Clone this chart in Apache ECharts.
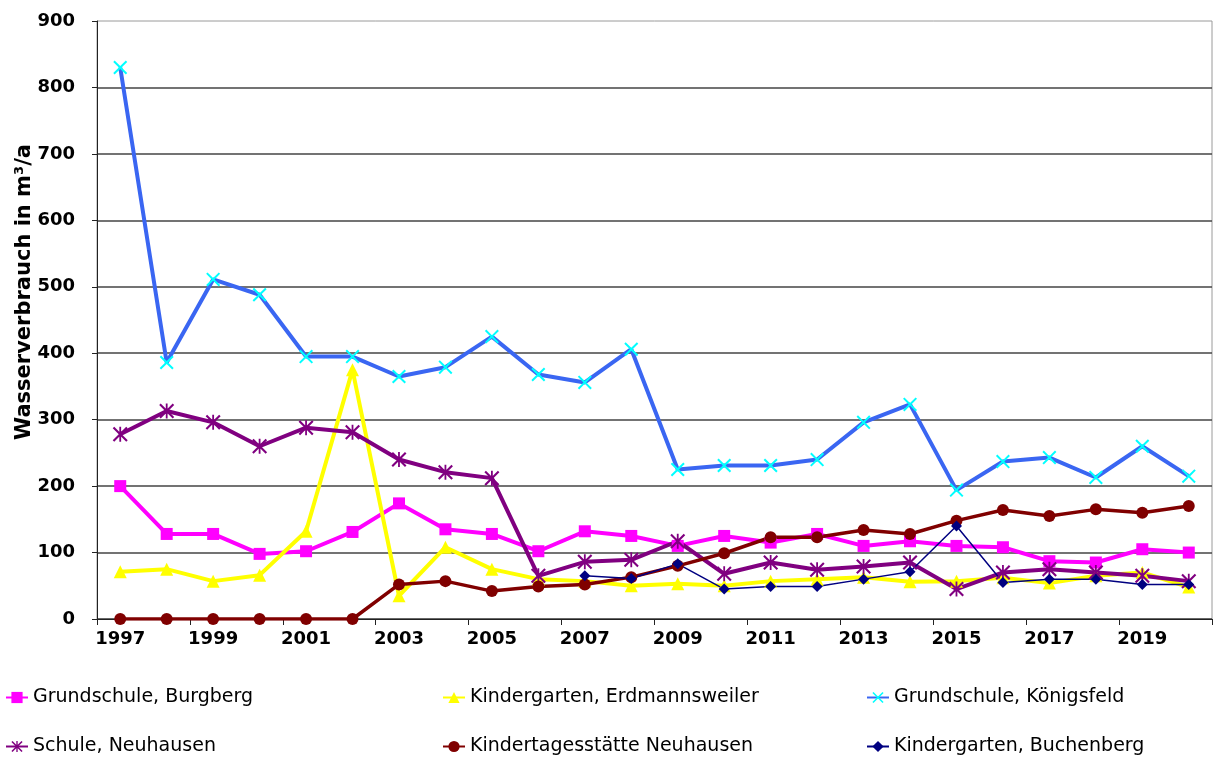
<!DOCTYPE html>
<html>
<head>
<meta charset="utf-8">
<script src="https://cdn.jsdelivr.net/npm/echarts@6/dist/echarts.min.js"></script>
<style>
    html, body { margin: 0; padding: 0; background: #fff; }
    #chart { width: 1219px; height: 759px; }
</style>
</head>
<body>
<div id="chart"></div>
<script>
// Jahre und Verbrauchswerte (m³/a)
const years = ['1997', '1998', '1999', '2000', '2001', '2002', '2003', '2004', '2005', '2006', '2007', '2008',
    '2009', '2010', '2011', '2012', '2013', '2014', '2015', '2016', '2017', '2018', '2019', '2020'];

const burgberg = [200, 128, 128, 98, 102, 131, 174, 135, 128, 102, 132, 125,
    110, 125, 115, 128, 110, 117, 110, 108, 87, 85, 105, 100];
const erdmannsweiler = [71, 75, 57, 66, 132, 375, 35, 108, 75, 60, 57, 50,
    53, 50, 57, 60, 63, 56, 57, 62, 54, 65, 70, 48];
const koenigsfeld = [830, 386, 511, 488, 395, 395, 365, 379, 425, 368, 356, 406,
    225, 231, 231, 240, 296, 323, 194, 237, 243, 213, 260, 215];
const schuleNeuhausen = [278, 313, 296, 260, 288, 281, 240, 221, 212, 65, 86, 89,
    117, 68, 85, 74, 79, 85, 45, 70, 75, 70, 65, 57];
const kitaNeuhausen = [0, 0, 0, 0, 0, 0, 52, 57, 42, 49, 52, 63,
    80, 99, 123, 123, 134, 128, 148, 164, 155, 165, 160, 170];
const buchenberg = ['-', '-', '-', '-', '-', '-', '-', '-', '-', '-', 65, 61,
    83, 45, 49, 49, 60, 71, 140, 55, 60, 60, 52, 52];

const seriesNames = ['Grundschule, Burgberg', 'Kindergarten, Erdmannsweiler', 'Grundschule, Königsfeld',
    'Schule, Neuhausen', 'Kindertagesstätte Neuhausen', 'Kindergarten, Buchenberg'];

// Markerformen: Kreuz und Stern als gefüllte Pfade
const crossSymbol = 'path://M0,1L1,0L5,4L9,0L10,1L6,5L10,9L9,10L5,6L1,10L0,9L4,5Z';
const starSymbol = 'path://M0,1L1,0L5,4L9,0L10,1L6,5L10,9L9,10L5,6L1,10L0,9L4,5Z M4.4,0L5.6,0L5.6,10L4.4,10Z';

document.addEventListener('DOMContentLoaded', function () {
    const chart = echarts.init(document.getElementById('chart'));
    const fontFamily = 'DejaVu Sans';

    function legend(left, names) {
        return {
            orient: 'vertical',
            left: left,
            top: 688,
            padding: 0,
            itemGap: 30,
            itemWidth: 22,
            itemHeight: 14,
            textStyle: { fontFamily: fontFamily, fontSize: 19, color: '#000' },
            data: names
        };
    }

    function lineSeries(name, data, color, width, symbol, size, symbolColor) {
        return {
            name: name,
            type: 'line',
            data: data,
            symbol: symbol,
            symbolSize: size,
            showAllSymbol: true,
            connectNulls: false,
            lineStyle: { color: color, width: width },
            itemStyle: { color: symbolColor || color },
            emphasis: { disabled: true }
        };
    }

    chart.setOption({
        animation: false,
        backgroundColor: '#fff',
        grid: {
            left: 97,
            right: 7,
            top: 21,
            bottom: 140,
            outerBoundsMode: 'none',
            show: true,
            borderColor: '#9a9a9a',
            borderWidth: 1
        },
        legend: [
            legend(5, [seriesNames[0], seriesNames[3]]),
            legend(442, [seriesNames[1], seriesNames[4]]),
            legend(866, [seriesNames[2], seriesNames[5]])
        ],
        xAxis: {
            type: 'category',
            data: years,
            boundaryGap: true,
            axisLine: { lineStyle: { color: '#222', width: 1 } },
            axisTick: { show: true, length: 6, lineStyle: { color: '#222' } },
            axisLabel: {
                interval: 1,
                margin: 11,
                color: '#000',
                fontFamily: fontFamily,
                fontWeight: 'bold',
                fontSize: 18
            }
        },
        yAxis: {
            type: 'value',
            min: 0,
            max: 900,
            interval: 100,
            name: 'Wasserverbrauch in m³/a',
            nameLocation: 'middle',
            nameGap: 62,
            nameMoveOverlap: false,
            nameTextStyle: {
                color: '#000',
                fontFamily: fontFamily,
                fontWeight: 'bold',
                fontSize: 21,
                padding: [0, 0, 0, 56]
            },
            axisLine: { show: true, lineStyle: { color: '#222', width: 1 } },
            axisTick: { show: true, length: 5, lineStyle: { color: '#222' } },
            axisLabel: {
                margin: 22,
                color: '#000',
                fontFamily: fontFamily,
                fontWeight: 'bold',
                fontSize: 18
            },
            splitLine: { showMaxLine: false, lineStyle: { color: '#444', width: 1.5 } }
        },
        series: [
            lineSeries(seriesNames[0], burgberg, '#FF00FF', 4, 'rect', 12),
            lineSeries(seriesNames[1], erdmannsweiler, '#FFFF00', 4, 'triangle', 13),
            lineSeries(seriesNames[2], koenigsfeld, '#3A66F2', 4, crossSymbol, 14, '#00FFFF'),
            lineSeries(seriesNames[3], schuleNeuhausen, '#800080', 4, starSymbol, 15),
            lineSeries(seriesNames[4], kitaNeuhausen, '#800000', 3.5, 'circle', 12),
            lineSeries(seriesNames[5], buchenberg, '#000080', 1.5, 'diamond', 11)
        ]
    });
});
</script>
</body>
</html>
